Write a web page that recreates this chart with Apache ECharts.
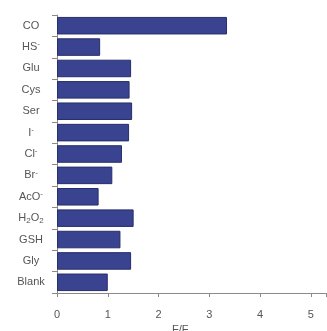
<!DOCTYPE html>
<html>
<head>
<meta charset="utf-8">
<script src="https://cdn.jsdelivr.net/npm/echarts@6/dist/echarts.min.js"></script>
<style>
  html, body { margin: 0; padding: 0; background: #fff; }
  #chart { width: 327px; height: 331px; }
</style>
</head>
<body>
<div id="chart"></div>
<script>
// Analytes, top to bottom
const categories = ['CO', 'HS⁻', 'Glu', 'Cys', 'Ser', 'I⁻', 'Cl⁻', 'Br⁻', 'AcO⁻', 'H₂O₂', 'GSH', 'Gly', 'Blank'];
// Fluorescence ratio F/F0 for each analyte
const ratios = [3.35, 0.85, 1.46, 1.43, 1.48, 1.42, 1.28, 1.09, 0.82, 1.51, 1.25, 1.46, 1.00];
const xTicks = [0, 1, 2, 3, 4, 5];

// Turn unicode super/subscripts into rich-text pieces
function richLabel(s) {
  let out = '';
  for (const ch of s) {
    if (ch === '⁻') out += '{sup|-}';
    else if (ch === '₂') out += '{sub|2}';
    else out += '{n|' + ch + '}';
  }
  return out;
}

const chart = echarts.init(document.getElementById('chart'), null, { renderer: 'canvas' });
const font = 'Liberation Sans, Arial, sans-serif';
chart.setOption({
  backgroundColor: '#ffffff',
  animation: false,
  grid: { left: 57, right: 1, top: 15, bottom: 38, containLabel: false, outerBoundsMode: 'none' },
  xAxis: {
    type: 'value',
    min: 0,
    max: 5.3,
    interval: 1,
    name: 'F/F{s|0}',
    nameLocation: 'middle',
    nameGap: 30,
    nameTextStyle: {
      color: '#555', fontFamily: font, fontSize: 11, padding: [0, 18, 0, 0],
      rich: { s: { fontSize: 8, verticalAlign: 'bottom', padding: [6, 0, 0, 0], color: '#555', fontFamily: font } }
    },
    axisLine: { show: true, lineStyle: { color: '#8a8a8a', width: 1 } },
    axisTick: { show: true, length: 4, lineStyle: { color: '#8a8a8a' } },
    axisLabel: {
      color: '#555', fontFamily: font, fontSize: 11, margin: 16,
      formatter: v => (xTicks.includes(v) ? String(v) : '')
    },
    splitLine: { show: false }
  },
  yAxis: {
    type: 'category',
    data: categories,
    inverse: true,
    axisLine: { show: true, lineStyle: { color: '#8a8a8a', width: 1 } },
    axisTick: { show: true, length: 5, alignWithLabel: false, lineStyle: { color: '#8a8a8a' } },
    axisLabel: {
      align: 'center',
      margin: 26,
      formatter: v => richLabel(v),
      rich: {
        n: { color: '#555', fontFamily: font, fontSize: 11 },
        sup: { color: '#555', fontFamily: font, fontSize: 8, verticalAlign: 'top', padding: [0, 0, 6, 0] },
        sub: { color: '#555', fontFamily: font, fontSize: 8, verticalAlign: 'bottom', padding: [6, 0, 0, 0] }
      }
    }
  },
  series: [{
    type: 'bar',
    data: ratios,
    barCategoryGap: '18%',
    itemStyle: { color: '#39438f', borderColor: '#272e6c', borderWidth: 1 }
  }]
});
</script>
</body>
</html>
